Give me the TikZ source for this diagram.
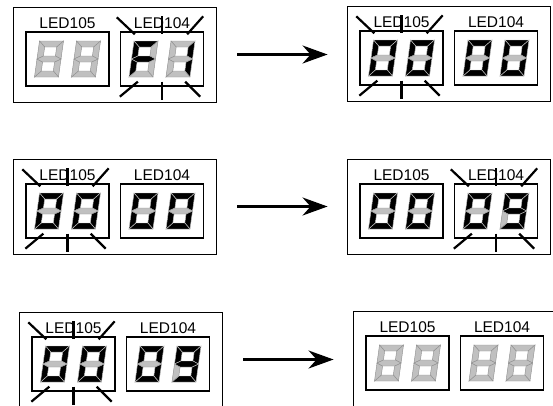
\documentclass[tikz,border=0pt]{standalone}
\usepackage{fontspec}
\setmainfont{Liberation Sans}
\usepackage{tikz}
\usetikzlibrary{arrows.meta, calc}
\definecolor{segGris}{RGB}{192, 192, 192}
\definecolor{segTrait}{RGB}{145, 145, 145}
% segment states a,b,c,d,e,f,g
\newcommand{\dzero}{segon,segon,segon,segon,segon,segon,segoff}
\newcommand{\dnine}{segon,segon,segon,segon,segoff,segon,segon}
\newcommand{\done}{segoff,segon,segon,segoff,segoff,segoff,segoff}
\newcommand{\dF}{segon,segoff,segoff,segoff,segon,segon,segon}
\newcommand{\deight}{segoff,segoff,segoff,segoff,segoff,segoff,segoff}
\newcommand{\segdigit}[2]{%
  \edef\seglist{#2}%
  \begin{scope}[shift={#1}, xslant=0.14]
    \foreach \st [count=\i] in \seglist {%
      \ifcase\i\or
        \filldraw[\st] (-12,-18) -- (12,-18) -- (6,-12) -- (-6,-12) -- cycle;
      \or
        \filldraw[\st] (12,-18) -- (12,0) -- (6,-3) -- (6,-12) -- cycle;
      \or
        \filldraw[\st] (12,0) -- (12,18) -- (6,12) -- (6,3) -- cycle;
      \or
        \filldraw[\st] (-12,18) -- (12,18) -- (6,12) -- (-6,12) -- cycle;
      \or
        \filldraw[\st] (-12,0) -- (-6,3) -- (-6,12) -- (-12,18) -- cycle;
      \or
        \filldraw[\st] (-12,-18) -- (-6,-12) -- (-6,-3) -- (-12,0) -- cycle;
      \or
        \filldraw[\st] (-12,0) -- (-6,-3) -- (6,-3) -- (12,0) -- (6,3)
          -- (-6,3) -- cycle;
      \fi
    }
  \end{scope}}
% blinking rays round a display
\newcommand{\blink}[1]{%
  \draw[ray] ($(#1.north west)+(-3,-14)$) -- ($(#1.north west)+(15,3)$);
  \draw[ray] ($(#1.north)+(0,-15)$) -- ($(#1.north)+(0,3)$);
  \draw[ray] ($(#1.north east)+(-1,-15)$) -- ($(#1.north east)+(-17,3)$);
  \draw[ray] ($(#1.south west)+(0,10)$) -- ($(#1.south west)+(18,-5)$);
  \draw[ray] ($(#1.south)+(0,-5)$) -- ($(#1.south)+(0,13)$);
  \draw[ray] ($(#1.south east)+(-19,-5)$) -- ($(#1.south east)+(-4,10)$);}

\begin{document}
\begin{tikzpicture}[x=1pt, y=-1pt,
  panel/.style={rectangle, draw=black, line width=0.9pt,
    minimum width=203pt, minimum height=95pt, inner sep=0pt},
  disp/.style={rectangle, draw=black, line width=1.3pt,
    minimum width=83pt, minimum height=54pt, inner sep=0pt},
  lbl/.style={anchor=south, inner sep=0pt,
    font=\fontsize{15.5}{18}\selectfont},
  segon/.style={fill=black, draw=gray!45, line width=0.45pt},
  segoff/.style={fill=segGris, draw=segTrait, line width=0.45pt},
  ray/.style={line width=2.2pt},
  arr/.style={-{Stealth[length=25pt, width=18pt, inset=8pt]},
    line width=2.2pt, shorten <=21pt, shorten >=19pt},
]
\useasboundingbox (0,0) rectangle (553,405);
\clip (0,0) rectangle (553,405);
\foreach \p/\x/\y in {r1l/13/7, r1r/347/6, r2l/13/159, r2r/347/159,
                      r3l/19/312, r3r/353/311} {
  \node[panel] (\p)   at (\x+101.5, \y+47.5) {};
  \node[disp]  (\p-a) at (\x+54.5, \y+52) {};
  \node[disp]  (\p-b) at (\x+149, \y+52) {};
  \node[lbl] (\p-la) at ($(\p-a.north)+(0,-3)$) {LED105};
  \node[lbl] (\p-lb) at ($(\p-b.north)+(0,-3)$) {LED104};
}
\foreach \p/\da/\db/\dc/\dd in {r1l/\deight/\deight/\dF/\done,
    r1r/\dzero/\dzero/\dzero/\dzero, r2l/\dzero/\dzero/\dzero/\dzero,
    r2r/\dzero/\dzero/\dzero/\dnine, r3l/\dzero/\dzero/\dzero/\dnine,
    r3r/\deight/\deight/\deight/\deight} {
  \segdigit{($(\p-a)+(-18.5,0)$)}{\da}
  \segdigit{($(\p-a)+(18.5,0)$)}{\db}
  \segdigit{($(\p-b)+(-18.5,0)$)}{\dc}
  \segdigit{($(\p-b)+(18.5,0)$)}{\dd}
}
\blink{r1l-b}
\blink{r1r-a}
\blink{r2l-a}
\blink{r2r-b}
\blink{r3l-a}
\draw[arr] (r1l.east) -- (r1l.east -| r1r.west);
\draw[arr] (r2l.east) -- (r2l.east -| r2r.west);
\draw[arr] (r3l.east) -- (r3l.east -| r3r.west);
\end{tikzpicture}
\end{document}
